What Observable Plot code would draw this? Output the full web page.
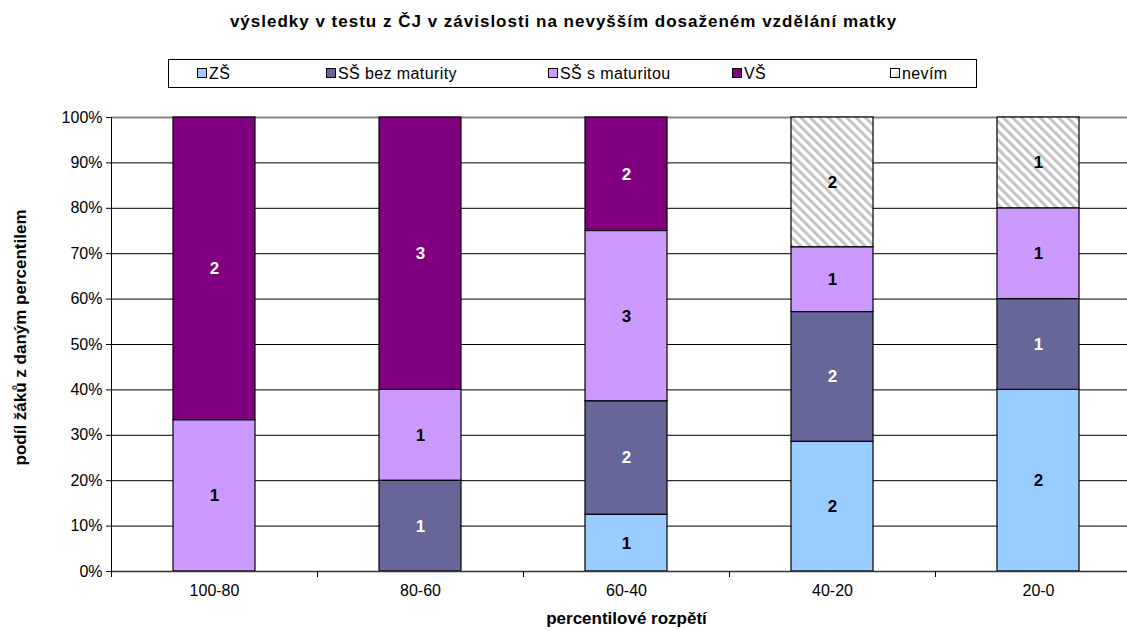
<!DOCTYPE html>
<html><head><meta charset="utf-8">
<script src="https://cdn.jsdelivr.net/npm/d3@7"></script>
<script src="https://cdn.jsdelivr.net/npm/@observablehq/plot@0.6"></script>
<style>
html,body{margin:0;padding:0;background:#fff;overflow:hidden;width:1127px;height:631px;font-family:"Liberation Sans",Arial,sans-serif;}
#title{position:absolute;left:0;width:1127px;top:12px;text-align:center;font-weight:bold;font-size:17px;letter-spacing:1px;color:#000;line-height:20px;}
#legend{position:absolute;left:168px;top:59px;width:809px;height:29px;border:1px solid #000;box-sizing:border-box;font-size:16px;letter-spacing:0.4px;}
.li{position:absolute;top:5px;white-space:nowrap;line-height:18px;}
.sw{display:inline-block;width:8px;height:8px;border:1px solid #000;margin-right:2px;vertical-align:1px;}
#chart{position:absolute;left:0;top:100px;}
#chart svg{max-width:none !important;}
</style></head>
<body>
<div id="title">výsledky v testu z ČJ v závislosti na nevyšším dosaženém vzdělání matky</div>
<div id="legend"></div>
<div id="chart"></div>
<script>
const categories = ["100-80","80-60","60-40","40-20","20-0"];
const series = ["ZŠ","SŠ bez maturity","SŠ s maturitou","VŠ","nevím"];
const countZS = [0,0,1,2,2];
const countSSbez = [0,1,2,2,1];
const countSSs = [1,1,3,1,1];
const countVS = [2,3,2,0,0];
const countNevim = [0,0,0,2,1];
const seriesColors = ["#99CCFF","#666699","#CC99FF","#800080","url(#hatch)"];
const labelColors = ["#000","#fff","#000","#fff","#000"];
const yTicks = [0,0.1,0.2,0.3,0.4,0.5,0.6,0.7,0.8,0.9,1];
const legendX = [28,157,379,563,721];

const counts = [countZS,countSSbez,countSSs,countVS,countNevim];
const data = [];
categories.forEach((c,i)=>{
  series.forEach((s,j)=>{
    data.push({cat:c, series:s, count:counts[j][i], label:labelColors[j]});
  });
});
const nz = data.filter(d=>d.count>0);

// legend
const leg = document.getElementById("legend");
series.forEach((s,j)=>{
  const el = document.createElement("span");
  el.className="li";
  el.style.left = legendX[j]+"px";
  const sw = document.createElement("span");
  sw.className="sw";
  sw.style.background = j===4 ? "linear-gradient(135deg,#fff 40%,#ccc 100%)" : seriesColors[j];
  el.appendChild(sw);
  el.appendChild(document.createTextNode(s));
  leg.appendChild(el);
});

const plot = Plot.plot({
  width: 1141, height: 531,
  marginLeft: 111, marginRight: 0, marginTop: 17, marginBottom: 60,
  style: {fontFamily: '"Liberation Sans", Arial, sans-serif', fontSize: "16px", color:"#000", background:"transparent", maxWidth:"none"},
  x: {domain: categories, paddingInner: 0.6, paddingOuter: 0.3, label: null},
  y: {domain: [0,1], label: null},
  color: {type:"ordinal", domain: series, range: seriesColors},
  marks: [
    Plot.ruleY(yTicks.slice(1,-1), {stroke:"#000", strokeWidth:1}),
    Plot.ruleY([1], {stroke:"#888", strokeWidth:2}),
    Plot.barY(nz, Plot.stackY({x:"cat", y:"count", z:"series", fill:"series", offset:"normalize", order: series, stroke:"#000", strokeWidth:1.2})),
    Plot.text(nz, Plot.stackY({x:"cat", y:"count", z:"series", offset:"normalize", order: series, text:"count", fill:"label", fontSize:17, fontWeight:"bold"})),
    Plot.ruleY([0], {stroke:"#333", strokeWidth:1.5}),
    Plot.ruleX([0], {x: ()=>categories[0], dx:-103, y1:0, y2:1, stroke:"#000"}),
    Plot.axisY({ticks: yTicks, tickFormat: d3.format(".0%"), tickSize:5, tickPadding:4, label:null, fontSize:16}),
    Plot.axisX({tickSize:0, tickPadding:13, label:null, fontSize:16}),
    Plot.ruleX(categories, {x: d=>d, dx:-103, y1:0, y2:0, insetBottom:-6, stroke:"#000"}),
    Plot.text(["percentilové rozpětí"], {frameAnchor:"bottom", dy:52, fontWeight:"bold", fontSize:17, letterSpacing:1.3}),
    Plot.text(["podíl žáků z daným percentilem"], {frameAnchor:"left", textAnchor:"middle", dx:-91, dy:-7, rotate:-90, fontWeight:"bold", fontSize:17, letterSpacing:1})
  ]
});
plot.style.maxWidth = "none";
const defs = d3.select(plot).insert("defs", ":first-child");
const pat = defs.append("pattern").attr("id","hatch").attr("patternUnits","userSpaceOnUse")
  .attr("width",6.5).attr("height",6.5).attr("patternTransform","rotate(-45)");
pat.append("rect").attr("width",6.5).attr("height",6.5).attr("fill","#fff");
pat.append("rect").attr("width",3).attr("height",6.5).attr("fill","#c4c4c4");
document.getElementById("chart").appendChild(plot);
</script>
</body></html>
